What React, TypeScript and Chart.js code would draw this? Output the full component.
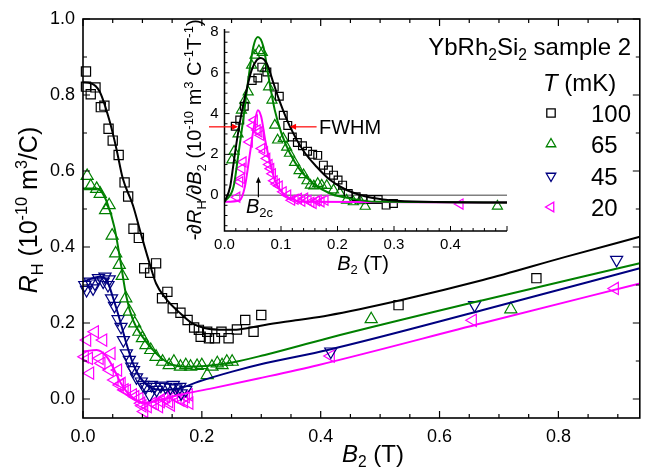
import React, { useEffect, useRef } from 'react';
import { Chart, registerables } from 'chart.js';

Chart.register(...registerables);

const FONT = '"Liberation Sans", Arial, Helvetica, sans-serif';

const C100 = '#000000';
const C65 = '#008000';
const C45 = '#000080';
const C20 = '#ff00ff';

// ---------- main panel: R_H vs B2 ----------
const mainXTicks = [0, 0.2, 0.4, 0.6, 0.8];
const mainXMinorTicks = [0.05, 0.1, 0.15, 0.25, 0.3, 0.35, 0.45, 0.5, 0.55, 0.65, 0.7, 0.75, 0.85, 0.9];
const mainYTicks = [0, 0.2, 0.4, 0.6, 0.8, 1.0];
const mainYMinorTicks = [0.1, 0.3, 0.5, 0.7, 0.9];

const rh100 = [
  [0.005, 0.862], [0.005, 0.822], [0.013, 0.802], [0.021, 0.82], [0.03, 0.768], [0.036, 0.772],
  [0.043, 0.711], [0.05, 0.68], [0.06, 0.642], [0.07, 0.57], [0.076, 0.533], [0.085, 0.448],
  [0.094, 0.424], [0.103, 0.344], [0.113, 0.332], [0.123, 0.357], [0.133, 0.265], [0.142, 0.282],
  [0.151, 0.239], [0.164, 0.227], [0.176, 0.208], [0.187, 0.188], [0.195, 0.182], [0.198, 0.164],
  [0.209, 0.177], [0.212, 0.16], [0.222, 0.16], [0.233, 0.177], [0.245, 0.16], [0.259, 0.183],
  [0.273, 0.208], [0.287, 0.177], [0.3, 0.221], [0.531, 0.247], [0.763, 0.318],
];
const rh65 = [
  [0.007, 0.587], [0.013, 0.56], [0.023, 0.553], [0.029, 0.54], [0.038, 0.497], [0.044, 0.51],
  [0.049, 0.43], [0.055, 0.383], [0.061, 0.353], [0.066, 0.324], [0.072, 0.265], [0.078, 0.23],
  [0.087, 0.199], [0.094, 0.177], [0.1, 0.16], [0.106, 0.142], [0.114, 0.129], [0.123, 0.111],
  [0.134, 0.098], [0.145, 0.089], [0.153, 0.098], [0.164, 0.085], [0.173, 0.089], [0.181, 0.085],
  [0.192, 0.087], [0.2, 0.089], [0.209, 0.063], [0.217, 0.085], [0.226, 0.094], [0.234, 0.089],
  [0.242, 0.098], [0.251, 0.098], [0.485, 0.21], [0.72, 0.236],
];
const rh45 = [
  [0.003, 0.3], [0.006, 0.287], [0.012, 0.309], [0.017, 0.291], [0.02, 0.304], [0.026, 0.318],
  [0.034, 0.309], [0.037, 0.322], [0.042, 0.3], [0.044, 0.315], [0.048, 0.265], [0.053, 0.245],
  [0.059, 0.21], [0.064, 0.19], [0.068, 0.155], [0.073, 0.12], [0.078, 0.103], [0.082, 0.085],
  [0.085, 0.076], [0.09, 0.057], [0.098, 0.046], [0.101, 0.037], [0.106, 0.032], [0.112, 0.011],
  [0.115, 0.037], [0.12, 0.032], [0.124, 0.024], [0.131, 0.035], [0.139, 0.032], [0.147, 0.03],
  [0.152, 0.037], [0.156, 0.028], [0.163, 0.032], [0.165, 0.015], [0.173, 0.024],
  [0.417, 0.125], [0.659, 0.247], [0.898, 0.366],
];
const rh20 = [
  [0.003, 0.111], [0.007, 0.155], [0.01, 0.107], [0.012, 0.068], [0.02, 0.177], [0.028, 0.107],
  [0.031, 0.094], [0.034, 0.155], [0.045, 0.076], [0.048, 0.12], [0.053, 0.05], [0.059, 0.076],
  [0.062, 0.037], [0.065, 0.041], [0.07, 0.024], [0.074, 0.022], [0.084, 0.011], [0.088, 0.006],
  [0.095, 0.002], [0.098, -0.011], [0.1, -0.018], [0.103, -0.033], [0.109, -0.02], [0.117, -0.011],
  [0.121, -0.013], [0.128, -0.02], [0.131, -0.007], [0.137, 0.002], [0.14, 0.006], [0.145, -0.007],
  [0.148, -0.016], [0.153, 0.006], [0.159, 0.002], [0.164, -0.003], [0.17, -0.007], [0.173, 0.006],
  [0.178, 0.011], [0.179, -0.011], [0.417, 0.113], [0.656, 0.207], [0.895, 0.291],
];

const fit100 = [
  [0, 0.833], [0.013, 0.831], [0.028, 0.809], [0.045, 0.73], [0.056, 0.66], [0.067, 0.58],
  [0.084, 0.51], [0.098, 0.432], [0.112, 0.357], [0.123, 0.304], [0.139, 0.265], [0.162, 0.228],
  [0.184, 0.199], [0.206, 0.186], [0.24, 0.182], [0.262, 0.183], [0.306, 0.195], [0.362, 0.208],
  [0.412, 0.22], [0.534, 0.26], [0.673, 0.313], [0.812, 0.374], [0.937, 0.427],
];
const fit65 = [
  [0, 0.554], [0.023, 0.554], [0.03, 0.548], [0.041, 0.515], [0.053, 0.451], [0.062, 0.372],
  [0.073, 0.269], [0.084, 0.208], [0.1, 0.164], [0.123, 0.12], [0.145, 0.094], [0.173, 0.085],
  [0.206, 0.087], [0.251, 0.096], [0.306, 0.116], [0.412, 0.16], [0.673, 0.26], [0.937, 0.357],
];
const fit45 = [
  [0, 0.309], [0.028, 0.322], [0.04, 0.313], [0.05, 0.269], [0.062, 0.208], [0.073, 0.146],
  [0.084, 0.094], [0.095, 0.059], [0.112, 0.032], [0.134, 0.024], [0.162, 0.028], [0.195, 0.046],
  [0.251, 0.072], [0.306, 0.094], [0.412, 0.129], [0.673, 0.234], [0.937, 0.344],
];
const fit20 = [
  [0, 0.125], [0.023, 0.129], [0.04, 0.111], [0.05, 0.085], [0.064, 0.041], [0.078, 0.011],
  [0.095, -0.007], [0.106, -0.011], [0.128, -0.003], [0.162, 0.011], [0.217, 0.028], [0.295, 0.054],
  [0.395, 0.089], [0.673, 0.2], [0.937, 0.304],
];

// ---------- inset: -dR_H/dB2 vs B2 ----------
const insetXTicks = [0, 0.1, 0.2, 0.3, 0.4];
const insetYTicks = [0, 2, 4, 6, 8];

const d100 = [
  [0.019, 3.38], [0.027, 3.68], [0.035, 4.36], [0.049, 5.62], [0.059, 5.75], [0.066, 6.28],
  [0.075, 6.04], [0.088, 5.3], [0.097, 4.85], [0.104, 3.92], [0.112, 3.42], [0.12, 2.85],
  [0.129, 2.58], [0.138, 2.42], [0.147, 2.15], [0.156, 2.0], [0.165, 1.95], [0.175, 1.47],
  [0.184, 1.23], [0.193, 0.98], [0.201, 0.74], [0.209, 0.49], [0.219, 0.08], [0.233, -0.08],
  [0.245, -0.18], [0.259, -0.22], [0.272, -0.22], [0.286, -0.49], [0.299, -0.41],
];
const d65 = [
  [0.013, 1.72], [0.017, 2.15], [0.024, 3.0], [0.03, 4.17], [0.036, 4.66], [0.042, 5.06],
  [0.048, 6.37], [0.054, 6.86], [0.061, 7.08], [0.067, 7.0], [0.072, 6.2], [0.078, 5.31],
  [0.084, 4.66], [0.089, 3.43], [0.094, 2.7], [0.104, 2.78], [0.11, 2.35], [0.115, 2.05],
  [0.124, 1.6], [0.132, 1.2], [0.14, 1.0], [0.146, 0.7], [0.152, 0.49], [0.158, 0.45],
  [0.165, 0.57], [0.172, 0.49], [0.181, 0.47], [0.193, 0.25], [0.204, 0.12], [0.216, -0.25],
  [0.228, -0.33], [0.24, -0.28], [0.249, -0.55], [0.483, -0.54],
];
const d20 = [
  [0.022, -0.1], [0.027, 0.65], [0.03, 0.82], [0.031, 1.31], [0.033, 1.63], [0.044, 2.61],
  [0.05, 3.4], [0.053, 3.68], [0.058, 3.2], [0.061, 3.1], [0.064, 2.94], [0.066, 2.29],
  [0.071, 2.12], [0.075, 1.8], [0.079, 1.5], [0.082, 1.3], [0.085, 1.05], [0.088, 0.7],
  [0.092, 0.55], [0.097, 0.45], [0.104, 0.16], [0.112, 0.0], [0.119, -0.25], [0.125, -0.2],
  [0.131, -0.16], [0.137, -0.3], [0.142, -0.15], [0.148, -0.25], [0.153, -0.35], [0.157, -0.41],
  [0.163, -0.28], [0.166, -0.25], [0.171, -0.33], [0.178, -0.25], [0.417, -0.44],
];
const dfit100 = [
  [0, -0.33], [0.01, 0.41], [0.016, 1.55], [0.022, 2.7], [0.03, 4.0], [0.039, 5.15],
  [0.048, 6.13], [0.057, 6.62], [0.064, 6.73], [0.075, 6.45], [0.086, 5.55], [0.098, 4.57],
  [0.116, 3.35], [0.139, 2.2], [0.163, 1.39], [0.187, 0.74], [0.216, 0.25], [0.252, -0.08],
  [0.293, -0.25], [0.352, -0.33], [0.5, -0.36],
];
const dfit65 = [
  [0, -0.33], [0.016, 0.41], [0.024, 1.88], [0.033, 3.68], [0.042, 5.64], [0.051, 7.27],
  [0.059, 7.76], [0.069, 7.27], [0.078, 5.8], [0.089, 4.17], [0.101, 3.02], [0.116, 2.04],
  [0.134, 1.23], [0.157, 0.57], [0.187, 0.08], [0.222, -0.16], [0.269, -0.33], [0.5, -0.36],
];
const dfit20 = [
  [0, -0.33], [0.027, -0.25], [0.036, 0.41], [0.045, 2.04], [0.053, 3.51], [0.059, 4.17],
  [0.065, 3.84], [0.072, 2.7], [0.081, 1.55], [0.089, 0.74], [0.101, 0.16], [0.116, -0.16],
  [0.139, -0.33], [0.5, -0.36],
];

// annotation anchors (data coordinates of the inset)
const fwhmLevel = 3.35;
const fwhmLeft = [-0.0275, 0.024];
const fwhmRight = [0.163, 0.116];
const b2cArrow = [0.06, -0.1, 0.9];

const legendTemps = ['100', '65', '45', '20'];
const legendColors = [C100, C65, C45, C20];
const legendShapes = ['square', 'up', 'down', 'left'];

type Seg = { t: string; i?: boolean; sub?: boolean; sup?: boolean };

function segFont(s: Seg, size: number) {
  const sz = s.sub || s.sup ? size * 0.65 : size;
  return `${s.i ? 'italic ' : ''}${sz}px ${FONT}`;
}

function drawRich(ctx: CanvasRenderingContext2D, segs: Seg[], x: number, y: number, size: number, align: string, color = '#000') {
  let w = 0;
  for (const s of segs) {
    ctx.font = segFont(s, size);
    w += ctx.measureText(s.t).width;
  }
  let cx = align === 'left' ? x : align === 'center' ? x - w / 2 : x - w;
  ctx.textAlign = 'left';
  ctx.textBaseline = 'alphabetic';
  ctx.fillStyle = color;
  for (const s of segs) {
    ctx.font = segFont(s, size);
    const dy = s.sub ? size * 0.22 : s.sup ? -size * 0.42 : 0;
    ctx.fillText(s.t, cx, y + dy);
    cx += ctx.measureText(s.t).width;
  }
}

function drawRotated(ctx: CanvasRenderingContext2D, segs: Seg[], cx: number, cy: number, size: number) {
  ctx.save();
  ctx.translate(cx, cy);
  ctx.rotate(-Math.PI / 2);
  drawRich(ctx, segs, 0, size * 0.36, size, 'center');
  ctx.restore();
}

function drawMarker(ctx: CanvasRenderingContext2D, kind: string, x: number, y: number, r: number, color: string) {
  ctx.save();
  ctx.strokeStyle = color;
  ctx.lineWidth = 1.3;
  ctx.beginPath();
  if (kind === 'square') {
    ctx.rect(x - r, y - r, 2 * r, 2 * r);
  } else {
    const rot = kind === 'up' ? 0 : kind === 'down' ? Math.PI : -Math.PI / 2;
    for (let k = 0; k < 3; k++) {
      const ang = rot + (k * 2 * Math.PI) / 3;
      const px = x + Math.sin(ang) * r;
      const py = y - Math.cos(ang) * r;
      if (k === 0) ctx.moveTo(px, py);
      else ctx.lineTo(px, py);
    }
    ctx.closePath();
  }
  ctx.stroke();
  ctx.restore();
}

function arrow(ctx: CanvasRenderingContext2D, x1: number, y1: number, x2: number, y2: number, color: string, head: number, half: number) {
  const ang = Math.atan2(y2 - y1, x2 - x1);
  ctx.save();
  ctx.strokeStyle = color;
  ctx.fillStyle = color;
  ctx.lineWidth = 1.2;
  ctx.beginPath();
  ctx.moveTo(x1, y1);
  ctx.lineTo(x2 - Math.cos(ang) * head * 0.8, y2 - Math.sin(ang) * head * 0.8);
  ctx.stroke();
  ctx.beginPath();
  ctx.moveTo(x2, y2);
  ctx.lineTo(x2 - Math.cos(ang) * head - Math.sin(ang) * half, y2 - Math.sin(ang) * head + Math.cos(ang) * half);
  ctx.lineTo(x2 - Math.cos(ang) * head + Math.sin(ang) * half, y2 - Math.sin(ang) * head - Math.cos(ang) * half);
  ctx.closePath();
  ctx.fill();
  ctx.restore();
}

const toPts = (arr: number[][]) => arr.map(([x, y]) => ({ x, y }));

function markerSet(arr: number[][], color: string, style: string, rotation: number, radius: number) {
  return {
    data: toPts(arr),
    showLine: false,
    pointStyle: style,
    pointRotation: rotation,
    pointRadius: radius,
    pointHoverRadius: radius,
    pointBorderColor: color,
    pointBackgroundColor: 'rgba(0,0,0,0)',
    pointBorderWidth: 1.2,
    borderColor: color,
    backgroundColor: 'rgba(0,0,0,0)',
    clip: false,
  };
}

function lineSet(arr: number[][], color: string, width: number) {
  return {
    data: toPts(arr),
    showLine: true,
    pointRadius: 0,
    borderColor: color,
    borderWidth: width,
    backgroundColor: color,
    fill: false,
    cubicInterpolationMode: 'monotone',
  };
}

const mainDecor = {
  id: 'mainDecor',
  afterDraw(chart: any) {
    const { ctx, chartArea: a } = chart;
    const sx = chart.scales.x;
    const sy = chart.scales.y;
    ctx.save();
    ctx.strokeStyle = '#000';
    ctx.lineWidth = 1.6;
    ctx.strokeRect(a.left, a.top, a.right - a.left, a.bottom - a.top);
    ctx.lineWidth = 1.2;
    ctx.beginPath();
    const xt = (vals: number[], len: number) =>
      vals.forEach((v) => {
        const p = sx.getPixelForValue(v);
        ctx.moveTo(p, a.bottom);
        ctx.lineTo(p, a.bottom - len);
        ctx.moveTo(p, a.top);
        ctx.lineTo(p, a.top + len);
      });
    const yt = (vals: number[], len: number) =>
      vals.forEach((v) => {
        const p = sy.getPixelForValue(v);
        ctx.moveTo(a.left, p);
        ctx.lineTo(a.left + len, p);
        ctx.moveTo(a.right, p);
        ctx.lineTo(a.right - len, p);
      });
    xt(mainXTicks, 7);
    xt(mainXMinorTicks, 4);
    yt(mainYTicks, 7);
    yt(mainYMinorTicks, 4);
    ctx.stroke();

    // axis titles
    drawRich(ctx, [{ t: 'B', i: true }, { t: '2', sub: true }, { t: ' (T)' }], 373, 462, 24, 'center');
    drawRotated(
      ctx,
      [{ t: 'R', i: true }, { t: 'H', sub: true }, { t: ' (10' }, { t: '-10', sup: true }, { t: ' m' }, { t: '3', sup: true }, { t: '/C)' }],
      28,
      210,
      25
    );

    // legend
    drawRich(ctx, [{ t: 'YbRh' }, { t: '2', sub: true }, { t: 'Si' }, { t: '2', sub: true }, { t: ' sample 2' }], 631, 55, 24, 'right');
    drawRich(ctx, [{ t: 'T', i: true }, { t: ' (mK)' }], 543, 91, 24, 'left');
    const rowsY = [113, 144, 176, 207];
    legendTemps.forEach((t, k) => {
      drawMarker(ctx, legendShapes[k], 551, rowsY[k], legendShapes[k] === 'square' ? 4.2 : 5.5, legendColors[k]);
      drawRich(ctx, [{ t }], 591, rowsY[k] + 8.5, 24, 'left');
    });
    ctx.restore();
  },
};

const insetDecor = {
  id: 'insetDecor',
  beforeDatasetsDraw(chart: any) {
    const { ctx, chartArea: a } = chart;
    const y0 = chart.scales.y.getPixelForValue(0);
    ctx.save();
    ctx.strokeStyle = '#808080';
    ctx.lineWidth = 1.5;
    ctx.beginPath();
    ctx.moveTo(a.left, y0);
    ctx.lineTo(a.right, y0);
    ctx.stroke();
    ctx.restore();
  },
  afterDraw(chart: any) {
    const { ctx, chartArea: a } = chart;
    const sx = chart.scales.x;
    const sy = chart.scales.y;
    ctx.save();
    ctx.strokeStyle = '#000';
    ctx.lineWidth = 1.5;
    ctx.beginPath();
    ctx.moveTo(a.left, a.top);
    ctx.lineTo(a.left, a.bottom);
    ctx.lineTo(a.right, a.bottom);
    ctx.stroke();
    ctx.lineWidth = 1;
    ctx.beginPath();
    for (let k = 0; k <= 25; k++) {
      const p = sx.getPixelForValue(k * 0.02);
      const len = k % 5 === 0 ? 5 : 3;
      ctx.moveTo(p, a.bottom);
      ctx.lineTo(p, a.bottom - len);
    }
    for (let k = -3; k <= 16; k++) {
      const p = sy.getPixelForValue(k * 0.5);
      if (p < a.top - 0.5 || p > a.bottom) continue;
      const len = k % 4 === 0 ? 5 : 3;
      ctx.moveTo(a.left, p);
      ctx.lineTo(a.left + len, p);
    }
    ctx.stroke();

    // titles
    drawRich(ctx, [{ t: 'B', i: true }, { t: '2', sub: true }, { t: ' (T)' }], 363, 270, 20, 'center');
    drawRotated(
      ctx,
      [
        { t: '-∂', i: true }, { t: 'R', i: true }, { t: 'H', sub: true }, { t: '/∂', i: true }, { t: 'B', i: true },
        { t: '2', sub: true }, { t: ' (10' }, { t: '-10', sup: true }, { t: ' m' }, { t: '3', sup: true },
        { t: ' C' }, { t: '-1', sup: true }, { t: 'T' }, { t: '-1', sup: true }, { t: ')' },
      ],
      194,
      130,
      20
    );

    // FWHM arrows
    const yF = sy.getPixelForValue(fwhmLevel);
    arrow(ctx, sx.getPixelForValue(fwhmLeft[0]), yF, sx.getPixelForValue(fwhmLeft[1]), yF, '#ff0000', 6, 3);
    arrow(ctx, sx.getPixelForValue(fwhmRight[0]), yF, sx.getPixelForValue(fwhmRight[1]), yF, '#ff0000', 6, 3);
    drawRich(ctx, [{ t: 'FWHM' }], 319, yF + 7, 20, 'left');

    // B2c arrow
    const xb = sx.getPixelForValue(b2cArrow[0]);
    arrow(ctx, xb, sy.getPixelForValue(b2cArrow[1]), xb, sy.getPixelForValue(b2cArrow[2]), '#000', 6, 2.5);
    drawRich(ctx, [{ t: 'B', i: true }, { t: '2c', sub: true }], 246, 213, 20, 'left');
    ctx.restore();
  },
};

const tickFont = (size: number) => ({ family: FONT, size });

export default function App() {
  const mainRef = useRef<HTMLCanvasElement | null>(null);
  const insetRef = useRef<HTMLCanvasElement | null>(null);

  useEffect(() => {
    const main = new Chart(mainRef.current as HTMLCanvasElement, {
      type: 'scatter',
      data: {
        datasets: [
          lineSet(fit100, C100, 2),
          lineSet(fit65, C65, 2),
          lineSet(fit45, C45, 2),
          lineSet(fit20, C20, 2),
          markerSet(rh100, C100, 'rect', 0, 6.5),
          markerSet(rh65, C65, 'triangle', 0, 7),
          markerSet(rh45, C45, 'triangle', 180, 7),
          markerSet(rh20, C20, 'triangle', 270, 7),
        ] as any,
      },
      options: {
        animation: false,
        responsive: false,
        maintainAspectRatio: false,
        events: [],
        layout: { padding: { left: 0, top: 19, right: 3, bottom: 0 } },
        plugins: { legend: { display: false }, tooltip: { enabled: false } },
        scales: {
          x: {
            type: 'linear',
            min: 0,
            max: 0.937,
            grid: { display: false, drawTicks: false, tickLength: 0 },
            border: { display: false },
            afterBuildTicks: (s: any) => {
              s.ticks = mainXTicks.map((v) => ({ value: v }));
            },
            afterFit: (s: any) => {
              s.height = 53;
            },
            ticks: {
              font: tickFont(18),
              color: '#000',
              padding: 8,
              autoSkip: false,
              maxRotation: 0,
              callback: (v: any) => Number(v).toFixed(1),
            },
          },
          y: {
            type: 'linear',
            min: -0.05,
            max: 1.0,
            grid: { display: false, drawTicks: false, tickLength: 0 },
            border: { display: false },
            afterBuildTicks: (s: any) => {
              s.ticks = mainYTicks.map((v) => ({ value: v }));
            },
            afterFit: (s: any) => {
              s.width = 83;
            },
            ticks: {
              font: tickFont(18),
              color: '#000',
              padding: 8,
              autoSkip: false,
              callback: (v: any) => Number(v).toFixed(1),
            },
          },
        },
      } as any,
      plugins: [mainDecor],
    });

    const inset = new Chart(insetRef.current as HTMLCanvasElement, {
      type: 'scatter',
      data: {
        datasets: [
          lineSet(dfit100, C100, 2),
          lineSet(dfit65, C65, 2),
          lineSet(dfit20, C20, 2),
          markerSet(d100, C100, 'rect', 0, 5.5),
          markerSet(d65, C65, 'triangle', 0, 5.8),
          markerSet(d20, C20, 'triangle', 270, 5.8),
        ] as any,
      },
      options: {
        animation: false,
        responsive: false,
        maintainAspectRatio: false,
        events: [],
        layout: { padding: { left: 184.5, top: 29, right: 141, bottom: 210 } },
        plugins: { legend: { display: false }, tooltip: { enabled: false } },
        scales: {
          x: {
            type: 'linear',
            min: 0,
            max: 0.5,
            grid: { display: false, drawTicks: false, tickLength: 0 },
            border: { display: false },
            afterBuildTicks: (s: any) => {
              s.ticks = insetXTicks.map((v) => ({ value: v }));
            },
            afterFit: (s: any) => {
              s.height = 30;
            },
            ticks: {
              font: tickFont(15),
              color: '#000',
              padding: 5,
              autoSkip: false,
              maxRotation: 0,
              callback: (v: any) => Number(v).toFixed(1),
            },
          },
          y: {
            type: 'linear',
            min: -1.76,
            max: 8.15,
            grid: { display: false, drawTicks: false, tickLength: 0 },
            border: { display: false },
            afterBuildTicks: (s: any) => {
              s.ticks = insetYTicks.map((v) => ({ value: v }));
            },
            afterFit: (s: any) => {
              s.width = 40;
            },
            ticks: {
              font: tickFont(15),
              color: '#000',
              padding: 6,
              autoSkip: false,
              callback: (v: any) => String(v),
            },
          },
        },
      } as any,
      plugins: [insetDecor],
    });

    return () => {
      main.destroy();
      inset.destroy();
    };
  }, []);

  return (
    <div style={{ position: 'absolute', left: 0, top: 0, width: 648, height: 471, background: '#fff' }}>
      <canvas ref={mainRef} width={648} height={471} style={{ position: 'absolute', left: 0, top: 0 }} />
      <canvas ref={insetRef} width={648} height={471} style={{ position: 'absolute', left: 0, top: 0 }} />
    </div>
  );
}
